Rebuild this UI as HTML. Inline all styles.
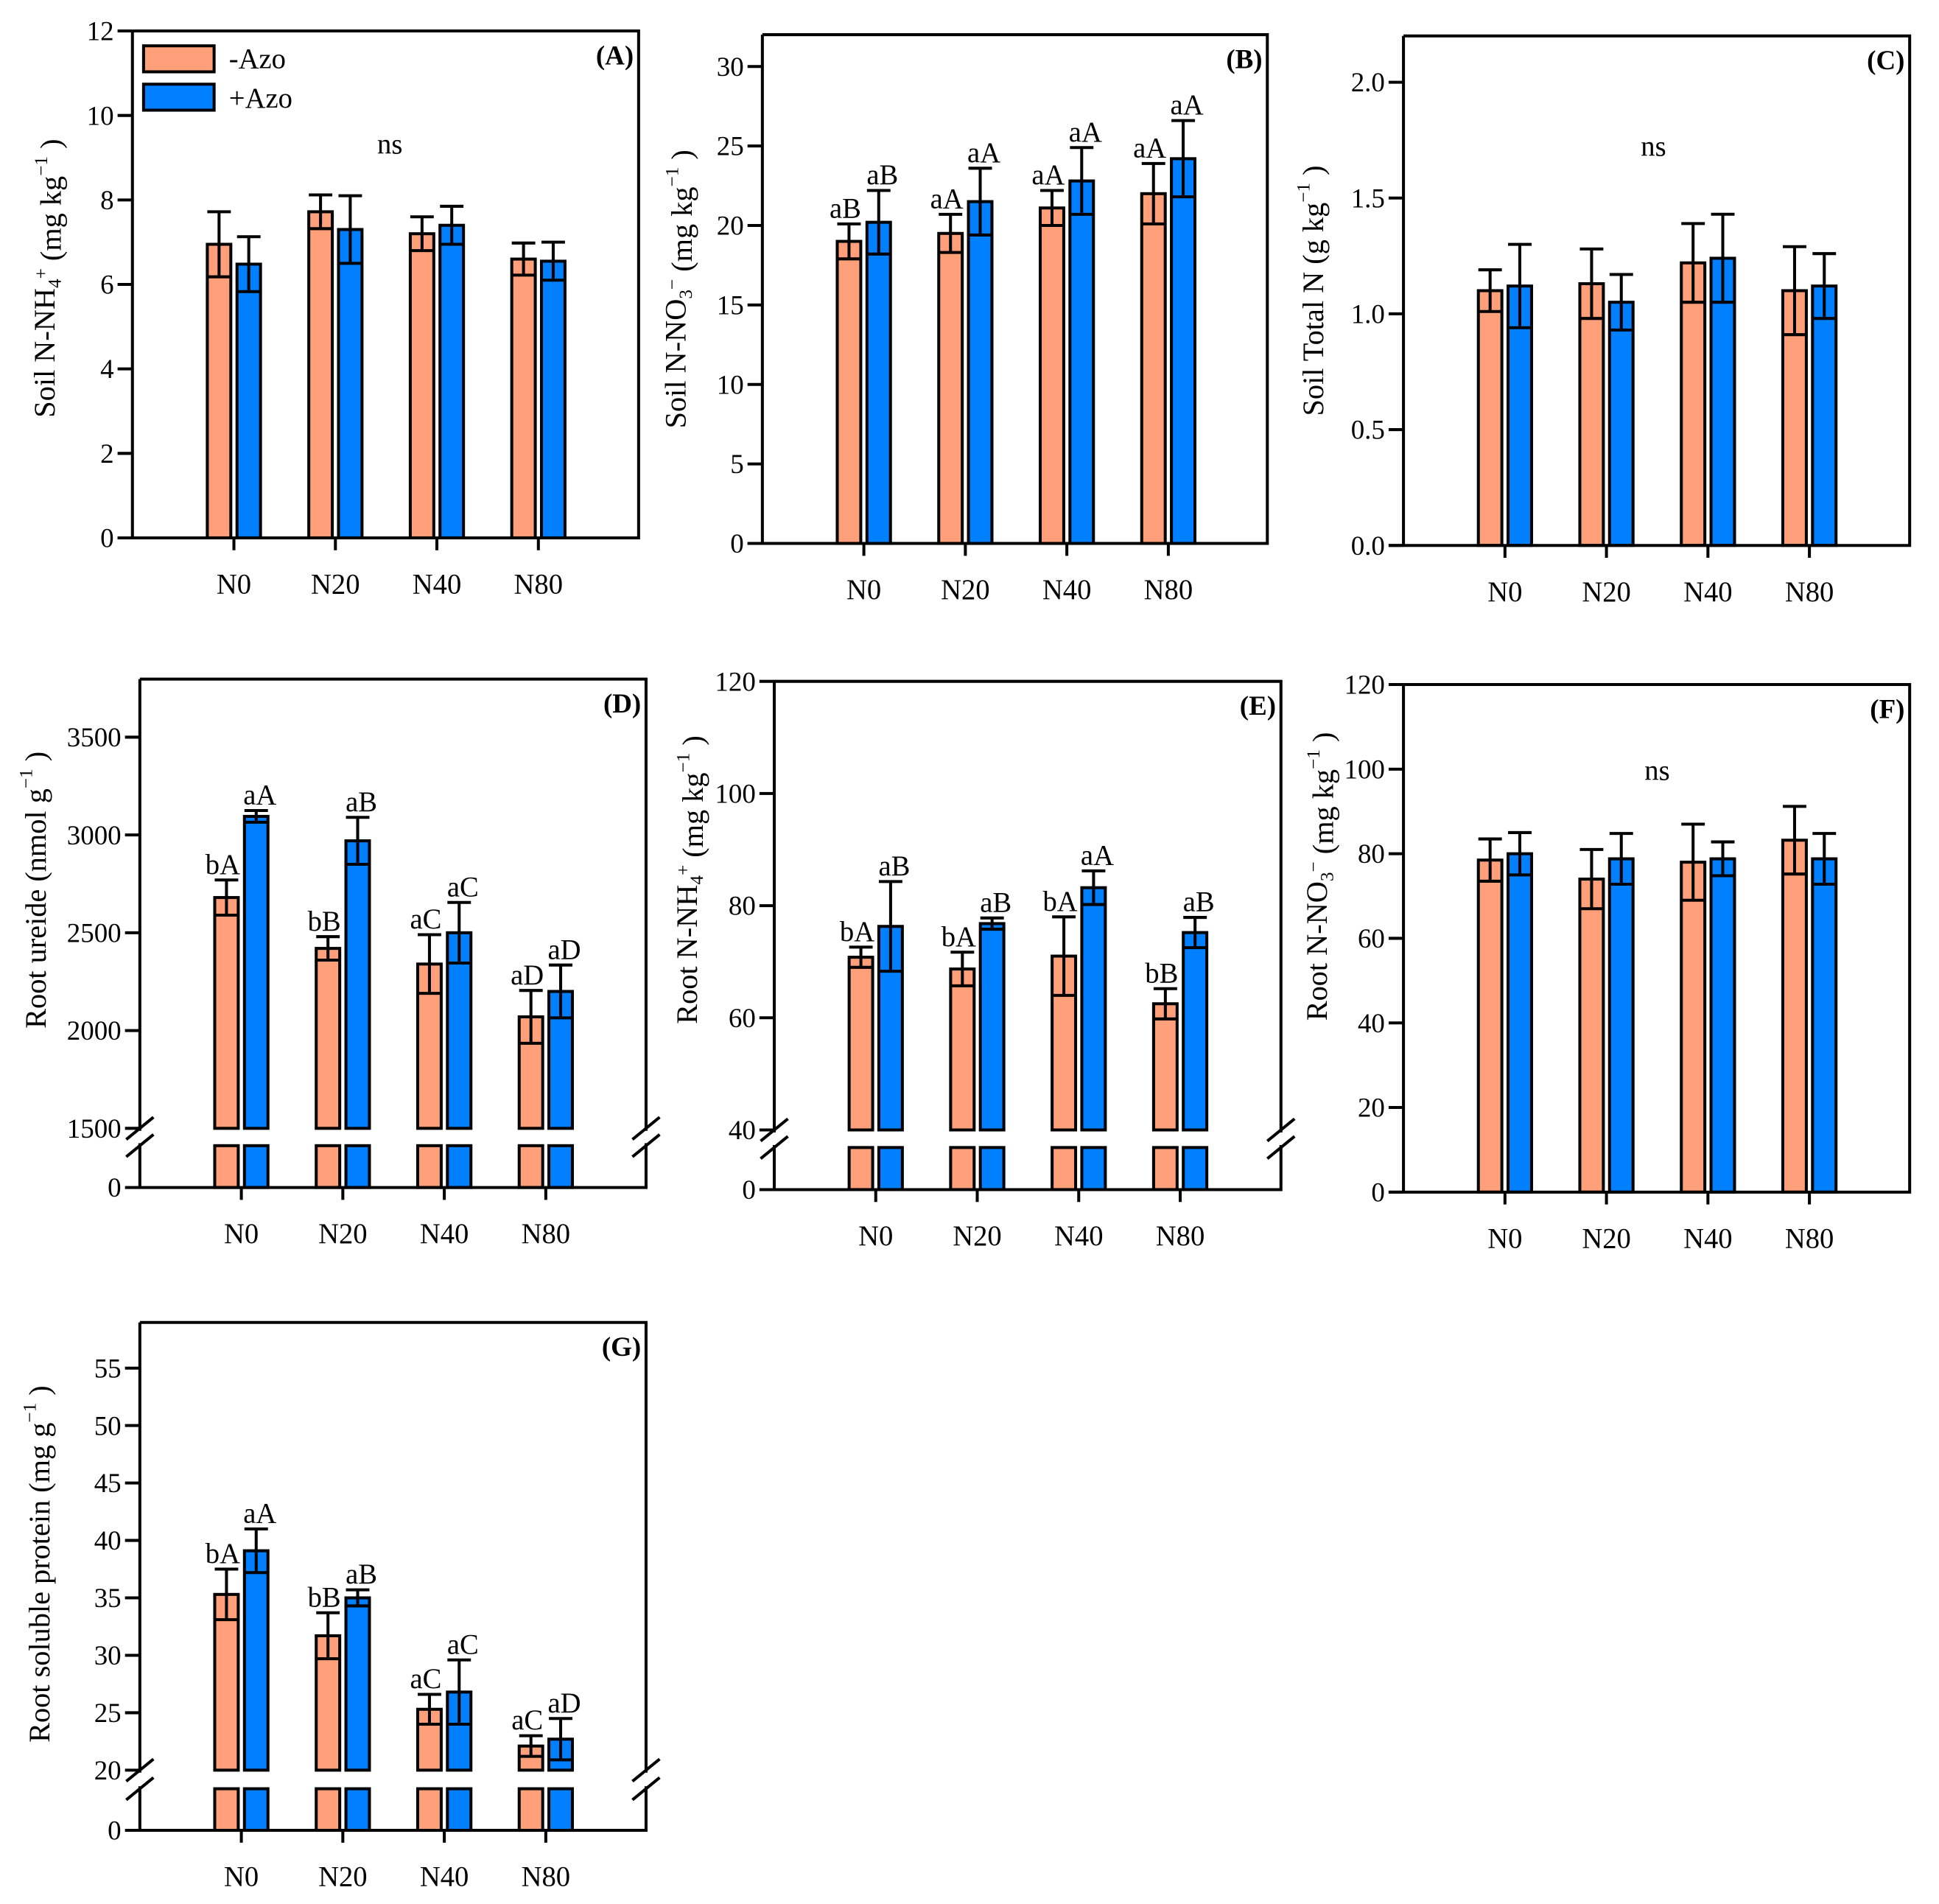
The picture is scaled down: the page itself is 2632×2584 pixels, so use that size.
<!DOCTYPE html>
<html><head><meta charset="utf-8"><style>
html,body{margin:0;padding:0;background:#fff}
svg{display:block}
svg text{font-family:"Liberation Serif","Times New Roman",serif;fill:#000}
</style></head><body>
<svg id="chart" width="2632" height="2584" viewBox="0 0 1566.7 1538.1" font-family="Liberation Serif, Times New Roman, serif" xmlns="http://www.w3.org/2000/svg"></svg>
<script>
const categories = ["N0","N20","N40","N80"];
// Panel A
const aMinus = [6.95,7.72,7.2,6.6];
const aMinusErr = [0.77,0.4,0.4,0.38];
const aPlus = [6.48,7.3,7.4,6.55];
const aPlusErr = [0.65,0.8,0.45,0.45];
const aTicks = [0,2,4,6,8,10,12];
// Panel B
const bMinus = [19.0,19.5,21.1,22.0];
const bMinusErr = [1.1,1.2,1.1,1.9];
const bPlus = [20.2,21.5,22.8,24.2];
const bPlusErr = [2.0,2.1,2.1,2.4];
const bMinusLbl = ["aB","aA","aA","aA"];
const bPlusLbl = ["aB","aA","aA","aA"];
const bTicks = [0,5,10,15,20,25,30];
// Panel C
const cMinus = [1.10,1.13,1.22,1.10];
const cMinusErr = [0.09,0.15,0.17,0.19];
const cPlus = [1.12,1.05,1.24,1.12];
const cPlusErr = [0.18,0.12,0.19,0.14];
const cTicks = ["0.0","0.5","1.0","1.5","2.0"];
// Panel D
const dMinus = [2680,2420,2340,2070];
const dMinusErr = [90,60,150,135];
const dPlus = [3095,2970,2500,2200];
const dPlusErr = [30,120,155,135];
const dMinusLbl = ["bA","bB","aC","aD"];
const dPlusLbl = ["aA","aB","aC","aD"];
const dTicks = [1500,2000,2500,3000,3500];
// Panel E
const eMinus = [70.8,68.7,71,62.5];
const eMinusErr = [1.8,3.0,7,2.7];
const ePlus = [76.3,76.8,83.2,75.2];
const ePlusErr = [8,1,3,2.7];
const eMinusLbl = ["bA","bA","bA","bB"];
const ePlusLbl = ["aB","aB","aA","aB"];
const eTicks = [40,60,80,100,120];
// Panel F
const fMinus = [78.5,74,78,83.2];
const fMinusErr = [5,7,9,8];
const fPlus = [80,78.8,78.8,78.8];
const fPlusErr = [5,6,4,6];
const fTicks = [0,20,40,60,80,100,120];
// Panel G
const gMinus = [35.3,31.7,25.3,22.1];
const gMinusErr = [2.2,2.0,1.3,0.9];
const gPlus = [39.1,35.0,26.8,22.7];
const gPlusErr = [1.9,0.7,2.8,1.8];
const gMinusLbl = ["bA","bB","aC","aC"];
const gPlusLbl = ["aA","aB","aC","aD"];
const gTicks = [20,25,30,35,40,45,50,55];

const NS="http://www.w3.org/2000/svg";
const svg=document.getElementById('chart');
const FONT="Liberation Serif, Times New Roman, serif";
function mk(tag,attrs,parent){const e=document.createElementNS(NS,tag);if(tag==='text')e.setAttribute('font-family',FONT);for(const k in attrs)e.setAttribute(k,attrs[k]);(parent||svg).appendChild(e);return e;}
const PINK="#FFA07A", BLUE="#007FFF", SW=2.4;

function panel(cfg){
  const g=mk('g',{});
  
  
  const {L,R,T,B}=cfg;
  let y;
  if(cfg.brk){ y=v=>cfg.yLo-(v-cfg.lo)/cfg.step*cfg.stepPx; }
  else { y=v=>B-v/cfg.ymax*(B-T); }
  const xc=i=>L+82*(i+1);
  const series=[[cfg.minus,cfg.minusErr,PINK,-12,cfg.minusLbl,'minus-azo'],[cfg.plus,cfg.plusErr,BLUE,12,cfg.plusLbl,'plus-azo']];
  series.forEach(([vals,errs,col,off,lbls,nm])=>{
    vals.forEach((v,i)=>{
      const cx=xc(i)+off, w=19;
      const base = cfg.brk? cfg.yLo : B;
      const r=mk('rect',{x:cx-w/2,y:y(v),width:w,height:base-y(v),fill:col,stroke:'#000','stroke-width':SW},g);
      
      
      if(cfg.brk){
        const r2=mk('rect',{x:cx-w/2,y:cfg.lowTop,width:w,height:B-cfg.lowTop,fill:col,stroke:'#000','stroke-width':SW},g);
        
        
      }
      const yt=y(v+errs[i]), yb=y(v-errs[i]);
      const eb=mk('path',{d:`M${cx},${yb}V${yt}M${cx-w/2},${yt}H${cx+w/2}M${cx-w/2},${yb}H${cx+w/2}`,stroke:'#000','stroke-width':SW,fill:'none'},g);
      
      
      if(lbls){
        const t=mk('text',{x:cx+(off<0?-3:3),y:yt-5,'font-size':23,'text-anchor':'middle'},g);
        t.textContent=lbls[i];
        
        
      }
    });
  });
  const fr=mk('path',{d:`M${L},${T}H${R}V${B}H${L-12}M${L},${B}V${T}`,stroke:'#000','stroke-width':SW,fill:'none'},g);
  
  
  cfg.ticks.forEach(tv=>{
    const v=parseFloat(tv), yy=y(v);
    mk('line',{x1:L-12,x2:L,y1:yy,y2:yy,stroke:'#000','stroke-width':SW},g);
    const t=mk('text',{x:L-15,y:yy+7.5,'font-size':22,'text-anchor':'end'},g);
    t.textContent=tv;
    
    
  });
  if(cfg.brk){
    const t=mk('text',{x:L-15,y:B+7.5,'font-size':22,'text-anchor':'end'},g);
    t.textContent='0';
    
    
    [L,R].forEach(ax=>{
      mk('rect',{x:ax-3,y:cfg.yLo+2,width:6,height:cfg.lowTop-cfg.yLo-4,fill:'#fff'},g);
      const bm=mk('path',{d:`M${ax-11},${cfg.yLo+9}L${ax+11},${cfg.yLo-9}M${ax-11},${cfg.lowTop+9}L${ax+11},${cfg.lowTop-9}`,stroke:'#000','stroke-width':SW},g);
      
      
    });
  }
  categories.forEach((c,i)=>{
    mk('line',{x1:xc(i),x2:xc(i),y1:B,y2:B+10,stroke:'#000','stroke-width':SW},g);
    const t=mk('text',{x:xc(i),y:B+45,'font-size':23,'text-anchor':'middle'},g);
    t.textContent=c;
    
    
  });
  const pl=mk('text',{x:R-4,y:T+27,'font-size':22,'font-weight':'bold','text-anchor':'end'},g);
  pl.textContent='('+cfg.id+')';
  
  
  if(cfg.ns){
    const t=mk('text',{x:cfg.ns[0],y:cfg.ns[1],'font-size':23,'text-anchor':'middle'},g);
    t.textContent='ns';
    
    
  }
  const yt=mk('text',{transform:`translate(${cfg.tx},${(T+B)/2+cfg.tdy}) rotate(-90)`,'font-size':24,'text-anchor':'middle'},g);
  yt.innerHTML=cfg.title;
  
  
}

const sup=s=>`<tspan dy="-11" font-size="15">${s}</tspan><tspan dy="11"> </tspan>`;
const sub=s=>`<tspan dy="5" font-size="15">${s}</tspan><tspan dy="-5"></tspan>`;

panel({id:'A',L:107,R:516,T:25,B:434.5,ymax:12,ticks:aTicks,minus:aMinus,minusErr:aMinusErr,plus:aPlus,plusErr:aPlusErr,ns:[315,124],tx:44,tdy:-5,
  title:'Soil N-NH'+sub('4')+sup('+')+' (mg kg'+sup('−1')+')'});
panel({id:'B',L:616,R:1024,T:28,B:439,ymax:32,ticks:bTicks,minus:bMinus,minusErr:bMinusErr,plus:bPlus,plusErr:bPlusErr,minusLbl:bMinusLbl,plusLbl:bPlusLbl,tx:554,tdy:0,
  title:'Soil N-NO'+sub('3')+sup('−')+' (mg kg'+sup('−1')+')'});
panel({id:'C',L:1134,R:1543,T:29,B:440.6,ymax:2.2,ticks:cTicks,minus:cMinus,minusErr:cMinusErr,plus:cPlus,plusErr:cPlusErr,ns:[1336,126],tx:1069,tdy:0,
  title:'Soil Total N (g kg'+sup('−1')+')'});
panel({id:'D',L:113,R:522,T:548.6,B:959.3,brk:true,lo:1500,step:500,stepPx:79,yLo:911.5,lowTop:925.5,ticks:dTicks,minus:dMinus,minusErr:dMinusErr,plus:dPlus,plusErr:dPlusErr,minusLbl:dMinusLbl,plusLbl:dPlusLbl,tx:37,tdy:-35,
  title:'Root ureide (nmol g'+sup('−1')+')'});
panel({id:'E',L:625.6,R:1035,T:550.4,B:961,brk:true,lo:40,step:20,stepPx:90.6,yLo:912.8,lowTop:927,ticks:eTicks,minus:eMinus,minusErr:eMinusErr,plus:ePlus,plusErr:ePlusErr,minusLbl:eMinusLbl,plusLbl:ePlusLbl,tx:563,tdy:-45,
  title:'Root N-NH'+sub('4')+sup('+')+' (mg kg'+sup('−1')+')'});
panel({id:'F',L:1134,R:1543,T:553,B:963,ymax:120,ticks:fTicks,minus:fMinus,minusErr:fMinusErr,plus:fPlus,plusErr:fPlusErr,ns:[1339,630],tx:1072,tdy:-50,
  title:'Root N-NO'+sub('3')+sup('−')+' (mg kg'+sup('−1')+')'});
panel({id:'G',L:113,R:522,T:1068.3,B:1478.6,brk:true,lo:20,step:5,stepPx:46.4,yLo:1430,lowTop:1445,ticks:gTicks,minus:gMinus,minusErr:gMinusErr,plus:gPlus,plusErr:gPlusErr,minusLbl:gMinusLbl,plusLbl:gPlusLbl,tx:40,tdy:-10,
  title:'Root soluble protein (mg g'+sup('−1')+')'});

const lg=mk('g',{});


const l1=mk('rect',{x:116,y:37,width:57,height:21,fill:PINK,stroke:'#000','stroke-width':SW},lg);


const l2=mk('rect',{x:116,y:68,width:57,height:21,fill:BLUE,stroke:'#000','stroke-width':SW},lg);


const t1=mk('text',{x:185,y:55,'font-size':23},lg);t1.textContent='-Azo';


const t2=mk('text',{x:185,y:87,'font-size':23},lg);t2.textContent='+Azo';


</script>
</body></html>
